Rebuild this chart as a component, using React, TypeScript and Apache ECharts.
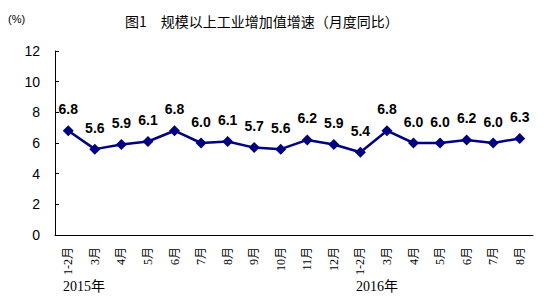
import React, { useEffect, useRef } from "react";
import * as echarts from "echarts";

const categories = ["1-2月", "3月", "4月", "5月", "6月", "7月", "8月", "9月", "10月", "11月", "12月", "1-2月", "3月", "4月", "5月", "6月", "7月", "8月"];
const growth = [6.8, 5.6, 5.9, 6.1, 6.8, 6.0, 6.1, 5.7, 5.6, 6.2, 5.9, 5.4, 6.8, 6.0, 6.0, 6.2, 6.0, 6.3];
const yearLabels = ["2015年", "2016年"];
const titleText = "图1　规模以上工业增加值增速（月度同比）";
const unitText = "(%)";

export default function App() {
  const ref = useRef<HTMLDivElement>(null);
  useEffect(() => {
    if (!ref.current) return;
    const chart = echarts.init(ref.current, null, { renderer: "svg" });
    chart.setOption({
      animation: false,
      backgroundColor: "#ffffff",
      graphic: [
        { type: "text", left: 125, top: 14, style: { text: titleText, font: "14px 'Noto Sans CJK SC'", fill: "#000" } },
        { type: "text", left: 8, top: 13, style: { text: unitText, font: "11px 'Liberation Sans', Arial", fill: "#000" } },
        { type: "text", left: 63, top: 279, style: { text: yearLabels[0], font: "14px 'Liberation Serif', 'Noto Sans CJK SC'", fill: "#000" } },
        { type: "text", left: 356, top: 279, style: { text: yearLabels[1], font: "14px 'Liberation Serif', 'Noto Sans CJK SC'", fill: "#000" } },
      ],
      grid: { left: 55, right: 23, top: 51, bottom: 73 },
      xAxis: {
        type: "category",
        data: categories,
        boundaryGap: true,
        axisLine: { lineStyle: { color: "#000", width: 1 } },
        axisTick: { inside: true, length: 4, lineStyle: { color: "#000" } },
        axisLabel: { rotate: 90, color: "#000", fontSize: 12, fontFamily: "'Liberation Serif', 'Noto Sans CJK SC'", margin: 12, interval: 0 },
        splitLine: { show: false },
      },
      yAxis: {
        type: "value",
        min: 0,
        max: 12,
        interval: 2,
        axisLine: { show: true, lineStyle: { color: "#000", width: 1 } },
        axisTick: { show: true, inside: true, length: 4, lineStyle: { color: "#000" } },
        axisLabel: { color: "#000", fontSize: 14, fontFamily: "'Liberation Sans', Arial", margin: 15 },
        splitLine: { show: false },
      },
      series: [
        {
          type: "line",
          data: growth,
          symbol: "diamond",
          symbolSize: 11,
          lineStyle: { color: "#000080", width: 2.5 },
          itemStyle: { color: "#000080" },
          label: {
            show: true,
            position: "top",
            distance: 9,
            color: "#000",
            fontSize: 14,
            fontWeight: "bold",
            fontFamily: "'Liberation Sans', Arial",
            formatter: (p: any) => p.value.toFixed(1),
          },
        },
      ],
    });
    return () => chart.dispose();
  }, []);
  return <div ref={ref} style={{ position: "fixed", left: 0, top: 0, width: 556, height: 308 }} />;
}
